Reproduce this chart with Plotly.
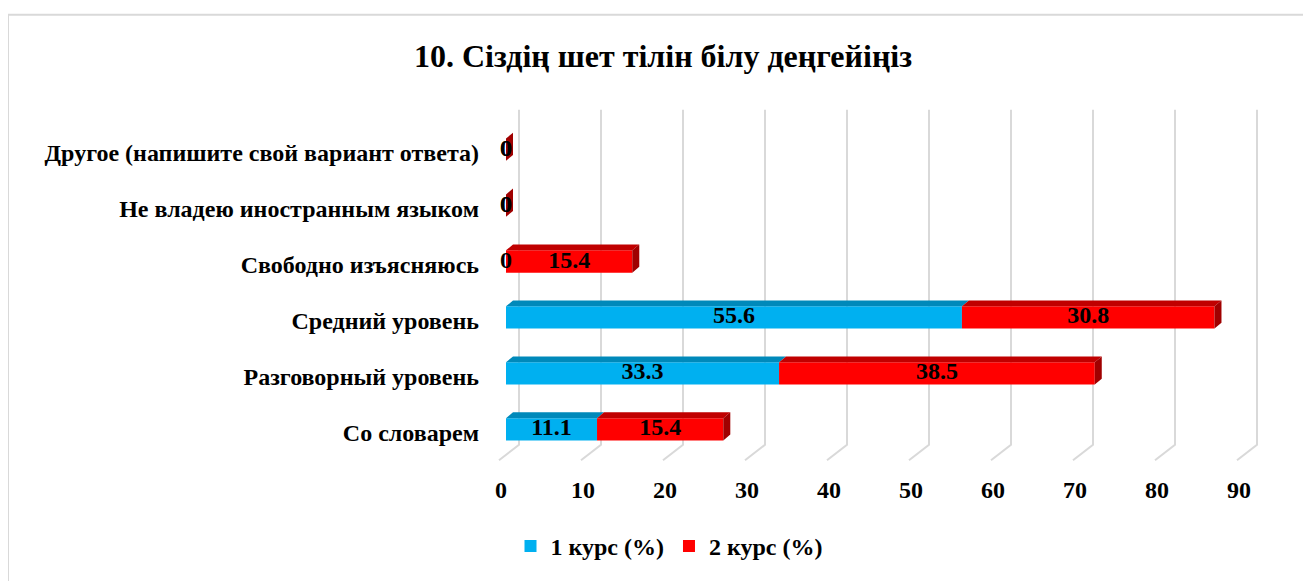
import plotly.graph_objects as go

# ---------------- data ----------------
categories = [
    "Со словарем",
    "Разговорный уровень",
    "Средний уровень",
    "Свободно изъясняюсь",
    "Не владею иностранным языком",
    "Другое (напишите свой вариант ответа)",
]
course1 = [11.1, 33.3, 55.6, 0, 0, 0]
course2 = [15.4, 38.5, 30.8, 15.4, 0, 0]
series_names = ["1 курс (%)", "2 курс (%)"]
x_ticks = [0, 10, 20, 30, 40, 50, 60, 70, 80, 90]
title_text = "10. Сіздің шет тілін білу деңгейіңіз"

# ---------------- style / geometry ----------------
OFF = 8                      # page body margin (figure starts at page pixel 8,8)
PAGE_W, PAGE_H = 1311, 581
W, H = PAGE_W - OFF, PAGE_H - OFF

def fx(px):                  # page px -> figure px
    return px - OFF

PLOT_L, PLOT_R, PLOT_T, PLOT_B = 480, 1281, 100, 481   # page pixels of plot area
ML, MR, MT, MB = fx(PLOT_L), W - fx(PLOT_R), fx(PLOT_T), H - fx(PLOT_B)

X0_PX, PX_PER_X = 506, 8.2        # page pixel of x=0 on bar front plane, px per unit
Y0_PX, PX_PER_CAT = 440, 57.75    # page pixel of first category, px per category
FONT = "Liberation Serif, Times New Roman, serif"

def xv(px):
    return (px - X0_PX) / PX_PER_X

def yv(py):
    return (Y0_PX - py) / PX_PER_CAT

x_range = [xv(PLOT_L), xv(PLOT_R)]
y_range = [yv(PLOT_B), yv(PLOT_T)]

BAR_W = 23 / PX_PER_CAT
DX = 7 / PX_PER_X
DY = 6 / PX_PER_CAT

BLUE, BLUE_TOP = "#00B0F0", "#0089BA"
RED, RED_TOP, RED_SIDE = "#FF0000", "#C00000", "#A00000"

ypos = list(range(len(categories)))

fig = go.Figure()

# front faces
fig.add_trace(go.Bar(y=ypos, x=course1, orientation="h", width=BAR_W,
                     marker=dict(color=BLUE, line=dict(width=0)),
                     name=series_names[0]))
fig.add_trace(go.Bar(y=ypos, x=course2, base=course1, orientation="h", width=BAR_W,
                     marker=dict(color=RED, line=dict(width=0)),
                     name=series_names[1]))

def top_faces(starts, vals):
    xs, ys = [], []
    for i, (s, v) in enumerate(zip(starts, vals)):
        if v <= 0:
            continue
        yt = i + BAR_W / 2
        xs += [s, s + v, s + v + DX, s + DX, s, None]
        ys += [yt, yt, yt + DY, yt + DY, yt, None]
    return xs, ys

def side_faces(ends):
    xs, ys = [], []
    for i, e in enumerate(ends):
        yt, yb = i + BAR_W / 2, i - BAR_W / 2
        xs += [e, e, e + DX, e + DX, e, None]
        ys += [yb, yt, yt + DY, yb + DY, yb, None]
    return xs, ys

zeros = [0] * len(categories)
ends = [a + b for a, b in zip(course1, course2)]

for (xs, ys), col in [
    (top_faces(zeros, course1), BLUE_TOP),
    (top_faces(course1, course2), RED_TOP),
    (side_faces(ends), RED_SIDE),
]:
    fig.add_trace(go.Scatter(x=xs, y=ys, mode="lines", fill="toself",
                             fillcolor=col, line=dict(width=0, color=col),
                             hoverinfo="skip", showlegend=False))

# value labels
lab_font = dict(family=FONT, size=24, color="black", weight="bold")
fig.add_trace(go.Scatter(x=[v / 2 for v in course1], y=ypos, mode="text",
                         text=[f"{v:g}" for v in course1], textfont=lab_font,
                         textposition="middle center", showlegend=False, hoverinfo="skip"))
fig.add_trace(go.Scatter(x=[a + b / 2 for a, b in zip(course1, course2)], y=ypos, mode="text",
                         text=[f"{v:g}" for v in course2], textfont=lab_font,
                         textposition="middle center", showlegend=False, hoverinfo="skip"))

# 3D style gridlines (back wall + floor diagonal)
GRID_BACK = 13 / PX_PER_X
GRID_FRONT = -7 / PX_PER_X
y_top, y_back, y_front = yv(110), yv(456), yv(472)
shapes = []
for t in x_ticks:
    path = (f"M {t + GRID_BACK},{y_top} L {t + GRID_BACK},{y_back} "
            f"L {t + GRID_FRONT},{y_front}")
    shapes.append(dict(type="path", path=path, xref="x", yref="y", layer="below",
                       line=dict(color="#D9D9D9", width=2)))

# chart border (top and left edges visible)
pw, ph = W - ML - MR, H - MT - MB
def paper_x(px):
    return (fx(px) - ML) / pw
def paper_y(py):
    return (H - MB - fx(py)) / ph

shapes.append(dict(type="rect", xref="paper", yref="paper",
                   x0=paper_x(8), x1=paper_x(PAGE_W + 20),
                   y0=paper_y(PAGE_H + 20), y1=paper_y(12),
                   line=dict(color="#D9D9D9", width=2), layer="below"))

fig.update_layout(
    width=W, height=H,
    margin=dict(l=ML, r=MR, t=MT, b=MB),
    barmode="overlay",
    plot_bgcolor="white", paper_bgcolor="white",
    shapes=shapes,
    title=dict(text=title_text, x=fx(663) / W, y=1 - fx(56) / H,
               xanchor="center", yanchor="middle",
               font=dict(family=FONT, size=32, color="black", weight="bold")),
    legend=dict(orientation="h", x=paper_x(669), y=paper_y(561),
                xanchor="center", yanchor="middle",
                font=dict(family=FONT, size=24, color="black", weight="bold"),
                itemwidth=30, traceorder="normal"),
    xaxis=dict(range=x_range, tickvals=x_ticks, showgrid=False, zeroline=False,
               showline=False, ticks="", ticklabelshift=-5, ticklabelstandoff=4,
               tickfont=dict(family=FONT, size=24, color="black", weight="bold")),
    yaxis=dict(range=y_range, tickvals=ypos, ticktext=categories, showgrid=False,
               zeroline=False, showline=False, ticks="", ticklabelstandoff=0,
               ticklabelshift=3,
               tickfont=dict(family=FONT, size=24, color="black", weight="bold")),
)

fig.write_html("out.html")
